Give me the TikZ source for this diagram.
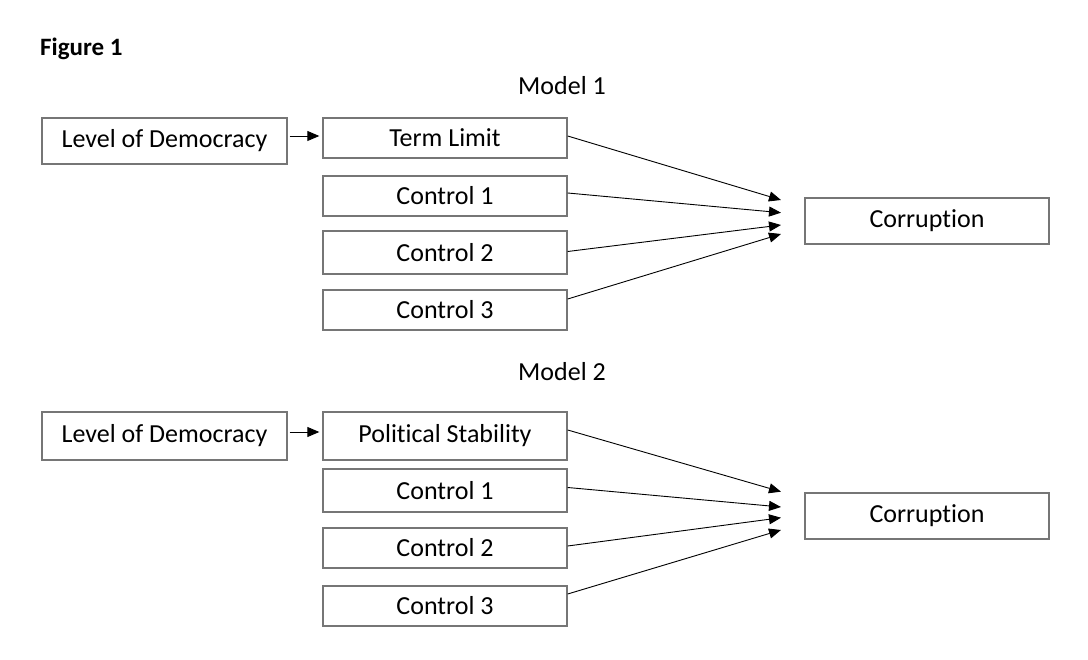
\documentclass[tikz,border=0pt]{standalone}
\usepackage{fontspec}
\setmainfont{Carlito}[Ligatures=NoCommon]
\usetikzlibrary{arrows.meta,calc}
\definecolor{boxgray}{RGB}{118,118,118}
\begin{document}
\begin{tikzpicture}[x=1pt,y=-1pt,
  box/.style={draw=boxgray, line width=1.4pt, inner sep=0pt, minimum width=244pt, minimum height=40pt, font=\fontsize{26}{30}\selectfont},
  conn/.style={line width=0.9pt, -{Triangle[length=12pt,width=10pt]}},
  lbl/.style={inner sep=0pt, font=\fontsize{26}{30}\selectfont}]
\useasboundingbox (0,0) rectangle (1088,660);
\node[lbl, anchor=west, font=\fontsize{25}{30}\selectfont\bfseries] (fig) at (40,49) {Figure 1};
% Model 1
\node[lbl] (m1) at (562,86) {Model 1};
\node[box, minimum width=245pt, minimum height=46pt] (lod1) at (164.5,141) {Level of Democracy};
\node[box] (tl) at (445,138) {Term Limit};
\node[box] (c11) at (445,196) {Control 1};
\node[box, minimum height=43pt] (c12) at (445,252.5) {Control 2};
\node[box] (c13) at (445,310) {Control 3};
\node[box, minimum height=46pt] (cor1) at (927,221) {Corruption};
\coordinate (e11) at (781,200);
\coordinate (e12) at (781,212.7);
\coordinate (e13) at (781,225);
\coordinate (e14) at (781,234);
\draw[conn] ([xshift=2pt,yshift=2pt]lod1.east |- tl.west) -- ([xshift=-3pt,yshift=2pt]tl.west);
\draw[conn] ([yshift=2pt]tl.east) -- (e11);
\draw[conn] ([yshift=3pt]c11.east) -- (e12);
\draw[conn] ([yshift=1pt]c12.east) -- (e13);
\draw[conn] ([yshift=11pt]c13.east) -- (e14);
% Model 2
\node[lbl] (m2) at (562,372) {Model 2};
\node[box, minimum width=245pt, minimum height=48pt] (lod2) at (164.5,436) {Level of Democracy};
\node[box, minimum height=48pt] (ps) at (445,436) {Political Stability};
\node[box, minimum height=43pt] (c21) at (445,490.5) {Control 1};
\node[box] (c22) at (445,548) {Control 2};
\node[box] (c23) at (445,606) {Control 3};
\node[box, minimum height=46pt] (cor2) at (927,516) {Corruption};
\coordinate (e21) at (781,491.7);
\coordinate (e22) at (781,507);
\coordinate (e23) at (781,517.7);
\coordinate (e24) at (781,530);
\draw[conn] ([xshift=2pt,yshift=4pt]lod2.east) -- ([xshift=-3pt,yshift=4pt]ps.west);
\draw[conn] ([yshift=6pt]ps.east) -- (e21);
\draw[conn] ([yshift=3pt]c21.east) -- (e22);
\draw[conn] ([yshift=2pt]c22.east) -- (e23);
\draw[conn] ([yshift=12pt]c23.east) -- (e24);
\end{tikzpicture}
\end{document}
